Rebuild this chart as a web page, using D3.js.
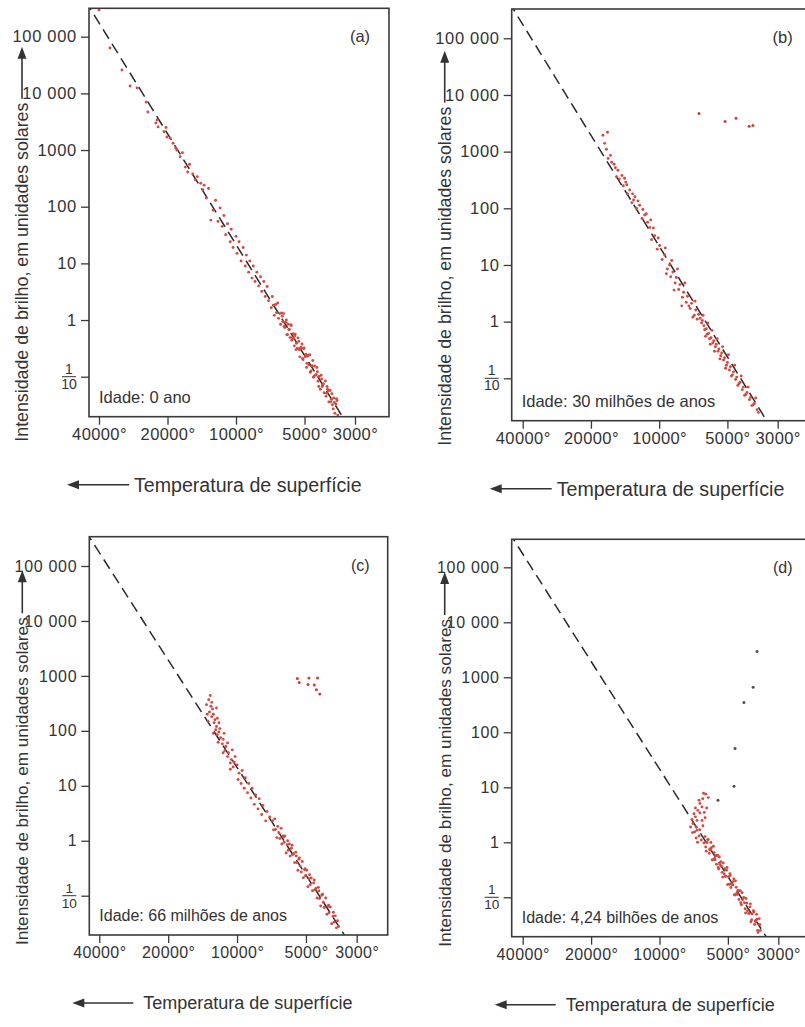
<!DOCTYPE html>
<html>
<head>
<meta charset="utf-8">
<script src="https://cdn.jsdelivr.net/npm/d3@7"></script>
<style>
  body { margin: 0; background: #fff; }
  svg text { font-family: "Liberation Sans", Arial, sans-serif; fill: #333; }
</style>
</head>
<body>
<div id="chart"></div>
<script>
// DATA

var panelNames = ["(a)", "(b)", "(c)", "(d)"];
var ageLabels = ["Idade: 0 ano", "Idade: 30 milhões de anos", "Idade: 66 milhões de anos", "Idade: 4,24 bilhões de anos"];
var tempTicks = [40000, 20000, 10000, 5000, 3000];
var tempTickLabels = ["40000°", "20000°", "10000°", "5000°", "3000°"];
var lumTicks = [100000, 10000, 1000, 100, 10, 1, 0.1];
var lumTickLabels = ["100 000", "10 000", "1000", "100", "10", "1", "1/10"];
var yTitle = "Intensidade de brilho, em unidades solares";
var xTitle = "Temperatura de superfície";

// main sequence reference line [temperature, luminosity]
var mainSequence = [[46000, 436000], [3300, 0.016]];

// stars [temperature K, luminosity in solar units]
var starsA = [
  [40000, 295000], [35800, 63000], [31700, 25800], [29200, 13500], [27200, 12400], [24800, 7000],
  [24400, 4700], [22500, 3000], [22200, 3400], [22000, 2560], [20700, 2100], [20300, 2500],
  [20100, 1700], [19500, 1630], [18900, 1320], [18400, 1090], [18200, 1000], [17600, 760],
  [17200, 900], [16700, 500], [16300, 410], [16000, 560], [15500, 380], [15100, 300],
  [14800, 340], [14300, 260], [14000, 200], [13800, 240],
  [13500, 142], [13200, 210], [12900, 58], [12600, 87], [12300, 130], [12000, 55],
  [11750, 95], [11500, 45], [11300, 70], [11100, 32], [10900, 50], [10600, 24],
  [10500, 40], [10300, 19], [10000, 30], [9900, 15], [9700, 24], [9500, 11],
  [9300, 19], [9100, 9], [9000, 14], [8800, 7], [8700, 11], [8500, 5.5],
  [8400, 9], [8250, 4.8], [8100, 7], [7950, 4], [7800, 5.8], [7700, 3.2],
  [7550, 4.8], [7450, 2.6], [7300, 3.9], [7200, 2.2],
  [7000, 1.65], [6930, 2.6], [6850, 1.83], [6790, 1.21], [6700, 1.88], [6640, 1.35],
  [6560, 2.0], [6500, 1.07], [6420, 1.3], [6370, 0.84], [6300, 1.33], [6230, 0.94],
  [6180, 1.3], [6100, 0.74], [6040, 0.91], [5980, 0.55], [5910, 0.84], [5860, 0.68],
  [5790, 0.49], [5720, 0.8], [5660, 0.49], [5610, 0.575], [5540, 0.35], [5490, 0.565],
  [5420, 0.39], [5370, 0.317], [5300, 0.42], [5240, 0.224], [5190, 0.33], [5130, 0.378],
  [5070, 0.2], [5020, 0.32], [4960, 0.225], [4900, 0.146], [4850, 0.229], [4790, 0.161],
  [4740, 0.244], [4680, 0.126], [4630, 0.155], [4570, 0.098], [4520, 0.154], [4470, 0.108],
  [4410, 0.145], [4360, 0.083], [4310, 0.101], [4260, 0.06], [4200, 0.091], [4160, 0.073],
  [4100, 0.052], [4050, 0.084], [4000, 0.051], [3960, 0.06], [3910, 0.036], [3860, 0.057],
  [3810, 0.04], [3770, 0.032], [3720, 0.042], [3680, 0.0226], [3640, 0.033], [3600, 0.038],
  [3570, 0.021],
  [6260, 1.17], [6140, 0.77], [6010, 1.0], [5940, 0.55], [5830, 0.68], [5750, 0.83],
  [5690, 0.44], [5580, 0.47], [5510, 0.53], [5450, 0.3], [5340, 0.485], [5270, 0.3],
  [5160, 0.32], [5100, 0.21], [5040, 0.31], [4930, 0.25], [4880, 0.172], [4820, 0.24],
  [4710, 0.12], [4650, 0.155], [4600, 0.193], [4540, 0.102], [4440, 0.107], [4390, 0.122],
  [4330, 0.067], [4230, 0.106], [4180, 0.067], [4130, 0.075], [4020, 0.045], [3980, 0.067],
  [3930, 0.057], [3840, 0.036], [3790, 0.05], [3740, 0.027], [3700, 0.035], [3620, 0.041]
];
var starsB = [
  [17700, 1940], [16900, 2200], [17400, 1400], [17100, 1100], [16400, 860], [16800, 760],
  [16200, 650], [15200, 470], [15600, 520], [15800, 600], [14600, 380], [15000, 330],
  [15400, 360], [14200, 340], [14050, 290], [14400, 250], [13900, 260], [13500, 210],
  [13800, 180], [13100, 180], [12970, 140], [12800, 160], [13200, 125], [12400, 135],
  [12200, 113], [12600, 100], [11800, 95], [11600, 76], [11400, 80], [11900, 66],
  [11250, 57], [10900, 62], [11000, 46], [10600, 45], [10470, 33], [10800, 28],
  [10100, 30], [9950, 22], [10200, 19],
  [9450, 15], [9400, 20], [9700, 12.5], [9000, 10], [8800, 12], [9300, 7],
  [9200, 8.5], [8700, 7.5], [8900, 6.2], [8300, 8.5], [8400, 6.0], [8500, 4.8],
  [8600, 3.6], [8100, 4.5], [8200, 3.7], [7700, 4.8], [7800, 3.3], [7900, 2.7],
  [7950, 1.9], [7500, 2.8], [7600, 2.2], [7200, 2.1], [7300, 1.7], [7400, 1.9],
  [6950, 2.3], [6900, 1.6], [7000, 1.3], [7100, 1.2], [6700, 1.35], [6800, 1.1],
  [6600, 1.15],
  [6500, 0.95], [6450, 1.05], [6350, 0.85], [6300, 0.72], [6200, 0.75], [6150, 0.6],
  [6050, 0.62], [6000, 0.5], [5900, 0.52], [5800, 0.42], [5750, 0.46], [5650, 0.36],
  [5600, 0.4], [5500, 0.3], [5450, 0.33], [5350, 0.25], [5300, 0.28], [5200, 0.21],
  [5150, 0.23], [5050, 0.17], [5000, 0.19], [4900, 0.14], [4850, 0.16], [4750, 0.115],
  [4700, 0.13], [4600, 0.095], [4550, 0.105], [4450, 0.08], [4400, 0.085], [4300, 0.063],
  [4250, 0.07], [4150, 0.052], [4100, 0.056], [4000, 0.042], [3950, 0.046], [3850, 0.034],
  [3800, 0.036], [3700, 0.028], [3650, 0.025],
  [6400, 1.3], [6100, 0.95], [5850, 0.7], [5550, 0.5], [5250, 0.36], [4950, 0.26],
  [4650, 0.17], [4350, 0.11], [4050, 0.07], [3750, 0.045], [6250, 0.55], [5950, 0.4],
  [5700, 0.3], [5400, 0.22], [5100, 0.15], [4800, 0.11], [4500, 0.075], [4200, 0.05],
  [3900, 0.033]
];
var starsC = [
  [13100, 440], [13300, 370], [13600, 300], [12900, 330], [13000, 280], [12300, 260],
  [12800, 250], [13200, 220], [13500, 200], [12700, 200], [12900, 180], [12200, 170],
  [12500, 160], [13400, 150], [12600, 140], [12000, 140], [12300, 120], [11900, 110],
  [12400, 105], [12000, 95], [12700, 90], [11400, 90], [12200, 85], [11800, 75],
  [11500, 70], [12100, 62], [11600, 58], [11000, 60], [11200, 52], [11300, 44],
  [10500, 45], [10900, 40], [11500, 40], [11000, 34], [10200, 34], [10600, 30],
  [10700, 26], [10300, 27], [10400, 22], [10700, 20],
  [10000, 24], [9800, 17], [9900, 13], [9500, 19], [9600, 11], [9200, 14],
  [9300, 9], [8900, 11], [9000, 7.5], [8600, 9], [8700, 6], [8300, 6.8],
  [8400, 4.6], [8000, 5.8], [8100, 3.8], [7700, 4.4], [7800, 3.0], [7400, 3.4],
  [7500, 2.3], [7200, 2.7],
  [7000, 2.3], [6930, 1.58], [6850, 2.5], [6790, 1.6], [6700, 1.14], [6640, 1.83],
  [6560, 1.38], [6500, 1.1], [6420, 1.68], [6370, 0.87], [6300, 1.22], [6230, 0.94],
  [6180, 1.22], [6100, 0.6], [6040, 0.85], [5980, 0.67], [5910, 0.875], [5860, 0.53],
  [5790, 0.73], [5720, 0.56], [5660, 0.58], [5610, 0.4], [5540, 0.62], [5490, 0.4],
  [5420, 0.29], [5370, 0.46], [5300, 0.346], [5240, 0.27], [5190, 0.42], [5130, 0.213],
  [5070, 0.3], [5020, 0.23], [4960, 0.29], [4900, 0.146], [4850, 0.204], [4790, 0.158],
  [4740, 0.21], [4680, 0.123], [4630, 0.17], [4570, 0.129], [4520, 0.135], [4470, 0.091],
  [4410, 0.142], [4360, 0.089], [4310, 0.065], [4260, 0.102], [4200, 0.076], [4160, 0.061],
  [4100, 0.091], [4050, 0.046], [4000, 0.064], [3960, 0.049], [3910, 0.062], [3860, 0.031],
  [3810, 0.0425], [3770, 0.033], [3720, 0.043], [3680, 0.026], [3640, 0.035], [3600, 0.0275],
  [6260, 1.17], [6010, 1.0], [5750, 0.83], [5510, 0.53], [5340, 0.485], [5040, 0.31],
  [4820, 0.24], [4600, 0.193], [4390, 0.122], [4230, 0.106], [3980, 0.067], [3790, 0.05]
];
var starsD = [
  [6250, 7.5], [6400, 7.8], [6100, 6.5], [6450, 6.2], [6700, 5.8], [6640, 5.1],
  [6500, 4.4], [6950, 4.2], [6200, 4.2], [6780, 3.8], [6350, 3.5], [6640, 3.4],
  [7050, 3.3], [6300, 2.8], [6950, 2.9], [6840, 2.5], [6500, 2.5], [7200, 2.6],
  [7130, 2.2], [6440, 2.0], [6900, 1.9], [7300, 1.9], [6840, 1.65], [6650, 1.7],
  [7000, 1.55], [7150, 1.5], [6700, 1.3], [6900, 1.2], [6550, 1.1], [6800, 1.0],
  [6370, 0.97], [6300, 1.27], [6230, 0.69], [6180, 0.99], [6100, 1.12], [6040, 0.63],
  [5980, 0.72], [5910, 0.8], [5860, 0.48], [5790, 0.85], [5720, 0.51], [5660, 0.57],
  [5610, 0.4], [5540, 0.575], [5490, 0.326], [5420, 0.4], [5370, 0.445], [5300, 0.284],
  [5240, 0.42], [5190, 0.266], [5130, 0.238], [5070, 0.31], [5020, 0.17], [4960, 0.236],
  [4900, 0.27], [4850, 0.151], [4790, 0.17], [4740, 0.193], [4680, 0.111], [4630, 0.199],
  [4570, 0.119], [4520, 0.133], [4470, 0.091], [4410, 0.131], [4360, 0.073], [4310, 0.09],
  [4260, 0.099], [4200, 0.062], [4160, 0.095], [4100, 0.057], [4050, 0.051], [4000, 0.067],
  [3960, 0.036], [3910, 0.05], [3860, 0.057], [3810, 0.032], [3770, 0.036], [3720, 0.04],
  [3680, 0.023], [3640, 0.041], [3600, 0.025],
  [6260, 0.82], [6140, 1.12], [6010, 0.75], [5940, 0.99], [5830, 0.48], [5750, 0.65],
  [5690, 0.48], [5580, 0.58], [5510, 0.35], [5450, 0.54], [5340, 0.365], [5270, 0.233],
  [5160, 0.33], [5100, 0.243], [5040, 0.35], [4930, 0.173], [4880, 0.25], [4820, 0.178],
  [4710, 0.216], [4650, 0.11], [4600, 0.152], [4540, 0.112], [4440, 0.132], [4390, 0.08],
  [4330, 0.121], [4230, 0.08], [4180, 0.052], [4130, 0.078], [4020, 0.051], [3980, 0.076],
  [3930, 0.039], [3840, 0.054], [3790, 0.037], [3740, 0.049], [3700, 0.025], [3620, 0.032]
];
var giantsA = [];
var giantsB = [[6670, 4700], [5120, 3400], [4580, 3900], [4010, 2800], [3860, 2900]];
var giantsC = [[5450, 900], [5350, 760], [4850, 920], [4450, 920], [4900, 700], [4600, 680], [4500, 560], [4350, 470]];
var giantsD = [[3720, 2960], [3870, 660], [4250, 350], [4650, 51], [4700, 10.5], [5530, 5.8]];

var stars = [starsA, starsB, starsC, starsD];
var giants = [giantsA, giantsB, giantsC, giantsD];
var giantColors = ["#c9403b", "#c9403b", "#c9403b", "#5e4848"];

// LAYOUT (pixel positions of each panel)
var layout = [
  { left: 89, right: 389, top: 8.3, bottom: 416.7, x40k: 99, x3k: 355, y1e5: 36.7, y01: 376.7, fs: 16.5, tfs: 17.8, xt: 45, xfs: 19.6, arrowTip: -22, arrowEnd: 40 },
  { left: 511.7, right: 812, top: 9, bottom: 420.7, x40k: 522.7, x3k: 777.7, y1e5: 38.3, y01: 378.3, fs: 16.5, tfs: 17.8, xt: 45, xfs: 19.6, arrowTip: -22, arrowEnd: 40 },
  { left: 89.3, right: 387.7, top: 536.7, bottom: 935, x40k: 99.3, x3k: 356.7, y1e5: 566, y01: 895.7, fs: 16, tfs: 17.2, xt: 54, xfs: 18, arrowTip: -17, arrowEnd: 44 },
  { left: 511.7, right: 812, top: 539.3, bottom: 936.7, x40k: 522.7, x3k: 778.3, y1e5: 567.3, y01: 897.3, fs: 16, tfs: 17.2, xt: 54, xfs: 18, arrowTip: -17, arrowEnd: 44 }
];

const svg = d3.select("#chart").append("svg").attr("width", 805).attr("height", 1027);
var defs = svg.append("defs");

function drawPanel(i) {
  var L = layout[i];
  var x = d3.scaleLog().domain([40000, 3000]).range([L.x40k, L.x3k]);
  var y = d3.scaleLog().domain([0.1, 100000]).range([L.y01, L.y1e5]);
  var g = svg.append("g");

  defs.append("clipPath").attr("id", "clip" + i)
    .append("rect")
    .attr("x", L.left).attr("y", L.top)
    .attr("width", L.right - L.left).attr("height", L.bottom - L.top);

  var plot = g.append("g").attr("clip-path", "url(#clip" + i + ")");

  // main sequence dashed line
  plot.append("path")
    .datum(mainSequence)
    .attr("d", d3.line().x(d => x(d[0])).y(d => y(d[1])))
    .attr("fill", "none")
    .attr("stroke", "#2a2a2a")
    .attr("stroke-width", 1.5)
    .attr("stroke-dasharray", "11,6");

  plot.selectAll(".star")
    .data(stars[i])
    .enter()
    .append("circle")
    .attr("class", "star")
    .attr("cx", d => x(d[0]))
    .attr("cy", d => y(d[1]))
    .attr("r", 1.45)
    .attr("fill", "#d8473f");

  plot.selectAll(".giant")
    .data(giants[i])
    .enter()
    .append("circle")
    .attr("class", "giant")
    .attr("cx", d => x(d[0]))
    .attr("cy", d => y(d[1]))
    .attr("r", 1.5)
    .attr("fill", giantColors[i]);

  // frame
  g.append("rect")
    .attr("x", L.left).attr("y", L.top)
    .attr("width", L.right - L.left).attr("height", L.bottom - L.top)
    .attr("fill", "none")
    .attr("stroke", "#3a3a3a")
    .attr("stroke-width", 1.6);

  // y axis
  var yAxis = g.append("g")
    .attr("transform", "translate(" + L.left + ",0)")
    .call(d3.axisLeft(y)
      .tickValues(lumTicks)
      .tickSize(8)
      .tickPadding(4)
      .tickFormat(d => d === 0.1 ? "" : lumTickLabels[lumTicks.indexOf(d)]));
  yAxis.select(".domain").remove();
  yAxis.selectAll("line").attr("stroke", "#3a3a3a").attr("stroke-width", 1.3);
  yAxis.selectAll("text")
    .style("font-size", L.fs + "px")
    .style("letter-spacing", "0.7px")
    .style("fill", "#333");

  // fraction label 1/10
  var fx = L.left - 20;
  var fy = y(0.1);
  var frac = lumTickLabels[lumTicks.indexOf(0.1)].split("/");
  g.append("text").attr("x", fx).attr("y", fy - 3).attr("text-anchor", "middle")
    .style("font-size", (L.fs * 0.85) + "px").text(frac[0]);
  g.append("line").attr("x1", fx - 7).attr("x2", fx + 7).attr("y1", fy).attr("y2", fy)
    .attr("stroke", "#333").attr("stroke-width", 1);
  g.append("text").attr("x", fx).attr("y", fy + 12).attr("text-anchor", "middle")
    .style("font-size", (L.fs * 0.85) + "px").text(frac[1]);

  // x axis
  var xAxis = g.append("g")
    .attr("transform", "translate(0," + L.bottom + ")")
    .call(d3.axisBottom(x)
      .tickValues(tempTicks)
      .tickSize(8)
      .tickPadding(4)
      .tickFormat(d => tempTickLabels[tempTicks.indexOf(d)]));
  xAxis.select(".domain").remove();
  xAxis.selectAll("line").attr("stroke", "#3a3a3a").attr("stroke-width", 1.3);
  xAxis.selectAll("text")
    .style("font-size", L.fs + "px")
    .style("letter-spacing", "0.4px")
    .style("fill", "#333");

  // panel letter and age
  g.append("text").attr("x", L.left + 271).attr("y", L.top + 34)
    .attr("text-anchor", "middle").style("font-size", L.fs + "px").text(panelNames[i]);
  g.append("text").attr("x", L.left + 10).attr("y", L.bottom - 14)
    .style("font-size", L.fs + "px").text(ageLabels[i]);

  // x title with arrow pointing left
  var ty = L.bottom + 68;
  g.append("line").attr("x1", L.left + L.arrowTip + 9).attr("x2", L.left + L.arrowEnd)
    .attr("y1", ty).attr("y2", ty)
    .attr("stroke", "#333").attr("stroke-width", 1.6);
  g.append("path")
    .attr("d", "M" + (L.left + L.arrowTip) + "," + ty + "l12,-4.5l0,9z")
    .attr("fill", "#333");
  g.append("text").attr("x", L.left + L.xt).attr("y", ty).attr("dy", "0.35em")
    .style("font-size", L.xfs + "px").text(xTitle);

  // y title, rotated, with arrow pointing up
  var tx = L.left - 67;
  var tb = L.bottom + (i < 2 ? 25 : 10);
  var yt = g.append("text")
    .attr("transform", "translate(" + tx + "," + tb + ") rotate(-90)")
    .attr("dy", "0.35em")
    .style("font-size", L.tfs + "px")
    .text(yTitle);
  var len = yt.node().getComputedTextLength();
  var a0 = tb - len - 4;
  var tip = a0 - (i < 2 ? 52 : 43);
  g.append("line").attr("x1", tx).attr("x2", tx).attr("y1", a0).attr("y2", tip + 8)
    .attr("stroke", "#333").attr("stroke-width", 1.6);
  g.append("path")
    .attr("d", "M" + tx + "," + tip + "l-4.5,12l9,0z")
    .attr("fill", "#333");
}

[0, 1, 2, 3].forEach(drawPanel);
</script>
</body>
</html>
